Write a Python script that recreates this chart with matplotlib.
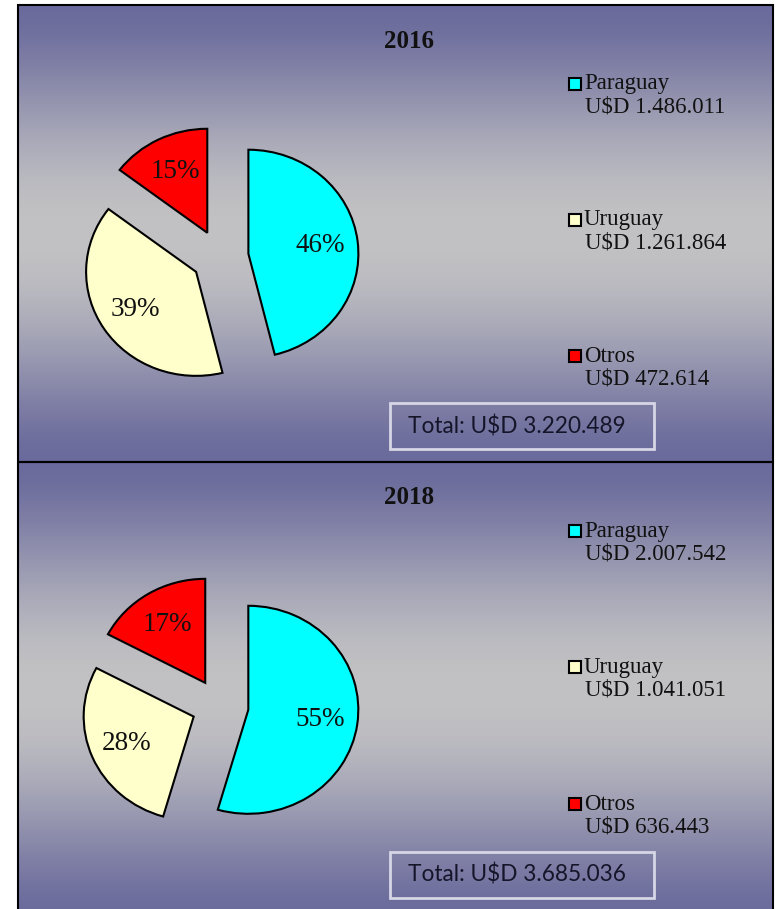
import numpy as np
import matplotlib
matplotlib.use("Agg")
import matplotlib.pyplot as plt
from matplotlib.patches import Rectangle

# datos
years = ["2016", "2018"]
countries = ["Paraguay", "Uruguay", "Otros"]
values_2016 = [1486011, 1261864, 472614]
values_2018 = [2007542, 1041051, 636443]
pct_2016 = ["46%", "39%", "15%"]
pct_2018 = ["55%", "28%", "17%"]
amounts_2016 = ["U$D 1.486.011", "U$D 1.261.864", "U$D 472.614"]
amounts_2018 = ["U$D 2.007.542", "U$D 1.041.051", "U$D 636.443"]
totals = ["Total: U$D 3.220.489", "Total: U$D 3.685.036"]
slice_colors = ["#00FFFF", "#FFFFCC", "#FF0000"]

W, H = 777, 909
SERIF = ["Liberation Serif", "DejaVu Serif"]

fig = plt.figure(figsize=(W / 100, H / 100), dpi=100)
fig.patch.set_facecolor("white")

# fondo en coordenadas de pixel (y hacia abajo)
bg = fig.add_axes([0, 0, 1, 1], zorder=0)
bg.set_xlim(0, W)
bg.set_ylim(H, 0)
bg.axis("off")

dark = np.array([106, 106, 156]) / 255
light = np.array([194, 194, 196]) / 255
t = np.linspace(0, 1, 400)
v = np.sin(np.pi * t) ** 1.5
grad = dark[None, :] + (light - dark)[None, :] * v[:, None]
grad = grad[:, None, :]

# (top, bottom) de cada panel en pixeles
panels = [(5, 462), (462, 919)]
pie_centers = [(220, 257), (220, 706)]
RX, RY = 110.0, 104.0   # el original esta un poco estirado en horizontal

for i, year in enumerate(years):
    top, bottom = panels[i]
    bg.imshow(grad, extent=(18, 773, bottom, top), aspect="auto", zorder=0)
    bg.add_patch(Rectangle((18, top), 755, bottom - top, fill=False,
                           edgecolor="black", linewidth=1.5, zorder=2))

    vals = values_2016 if i == 0 else values_2018
    pcts = pct_2016 if i == 0 else pct_2018
    amts = amounts_2016 if i == 0 else amounts_2018

    # pie en unos ejes propios: radio 1 = RX px en x, RY px en y
    cx, cy = pie_centers[i]
    k = 2.2
    pax = fig.add_axes([(cx - k * RX) / W, (H - cy - k * RY) / H,
                        2 * k * RX / W, 2 * k * RY / H], zorder=3)
    wedges, texts = pax.pie(vals, colors=slice_colors, startangle=90, counterclock=False,
                            explode=[0.26, 0.26, 0.26], labels=pcts, labeldistance=0.66,
                            wedgeprops=dict(edgecolor="black", linewidth=1.5),
                            textprops=dict(fontsize=19.5, family=SERIF, color="#111111"))
    for tx in texts:
        tx.set_ha("center")
        tx.set_va("center")
    pax.set_xlim(-k, k)
    pax.set_ylim(-k, k)
    pax.set_aspect("auto")
    pax.axis("off")

    # titulo
    bg.text(409, top + 36, year, ha="center", va="center", fontsize=18,
            fontweight="bold", family=SERIF, color="#111111", zorder=4)

    # leyenda
    leg_y = [top + 79, top + 215, top + 351] if i == 0 else [top + 69, top + 205, top + 342]
    for c, name, amt, y in zip(slice_colors, countries, amts, leg_y):
        bg.add_patch(Rectangle((569, y - 6), 12, 12, facecolor=c, edgecolor="black",
                               linewidth=1.5, zorder=4))
        bg.text(584, y, name, ha="left", va="center", fontsize=16.5, family=SERIF,
                color="#111111", zorder=4)
        bg.text(585, y + 23, amt, ha="left", va="center", fontsize=16.5, family=SERIF,
                color="#111111", zorder=4)

    # total
    box_top = top + 398 if i == 0 else top + 390
    bg.add_patch(Rectangle((390, box_top), 264, 46, fill=False, edgecolor="#d6d6e6",
                           linewidth=2, zorder=4))
    bg.text(408, box_top + 23, totals[i], ha="left", va="center", fontsize=16.3,
            family=["Lato", "DejaVu Sans"], color="#15152a", zorder=4)

fig.savefig("out.png", dpi=100)
